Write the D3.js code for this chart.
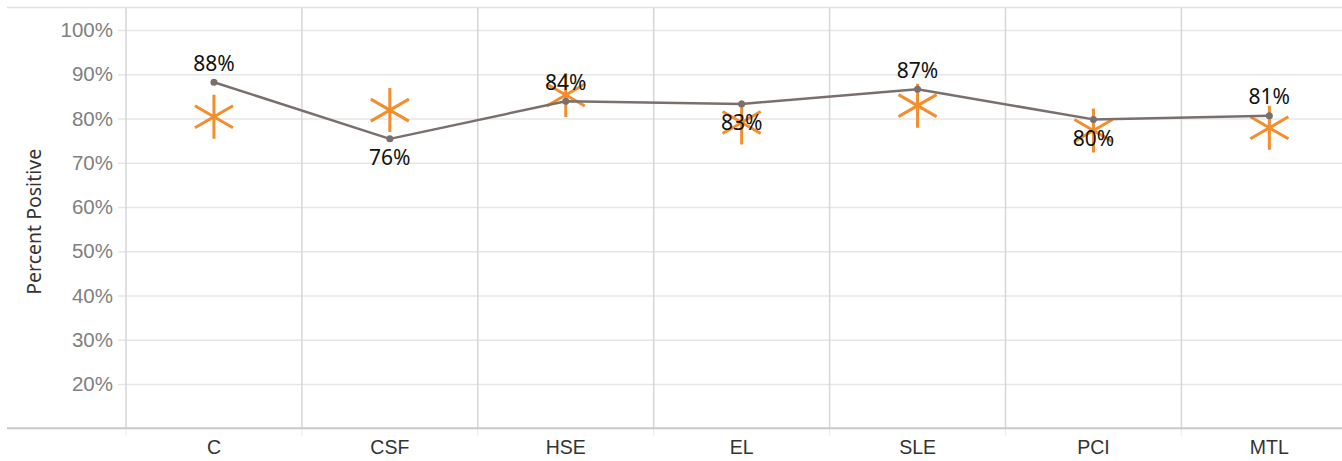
<!DOCTYPE html>
<html>
<head>
<meta charset="utf-8">
<script src="https://cdn.jsdelivr.net/npm/d3@7"></script>
<style>
  html, body { margin: 0; padding: 0; background: #fff; }
  svg { display: block; font-family: "Noto Sans", "Open Sans", sans-serif; }
</style>
</head>
<body>
<svg id="chart" width="1342" height="461"></svg>
<script>
// ---- data ----
const categories = ["C", "CSF", "HSE", "EL", "SLE", "PCI", "MTL"];
const lineValues = [88.2, 75.4, 83.9, 83.3, 86.6, 79.8, 80.6];      // gray line (labelled)
const lineLabels = ["88%", "76%", "84%", "83%", "87%", "80%", "81%"];
const starValues = [80.4, 81.9, 85.3, 79.1, 82.9, 77.3, 77.9];      // orange asterisks
const yTicks = [20, 30, 40, 50, 60, 70, 80, 90, 100];
const yTickLabels = yTicks.map(t => t + "%");
const yTitle = "Percent Positive";

// ---- layout ----
const W = 1342, H = 461;
const plotLeft = 126, bandW = 175.9;
const svg = d3.select("#chart");

const x = d3.scaleBand().domain(categories)
  .range([plotLeft, plotLeft + bandW * categories.length]).padding(0);
const y = d3.scaleLinear().domain([10, 100]).range([428.25, 30]);
const yTop = y(105.1), yBot = y(10);

// horizontal gridlines (y axis ticks)
const yAxis = d3.axisLeft(y).tickValues(yTicks).tickFormat((d, i) => yTickLabels[i])
  .tickSize(-(W - plotLeft)).tickPadding(13);
const ga = svg.append("g").attr("transform", `translate(${plotLeft},0)`).call(yAxis);
ga.select(".domain").remove();
ga.selectAll(".tick line").attr("x1", -8).attr("stroke", "#e6e6e6").attr("stroke-width", 1.5);
ga.selectAll(".tick text").attr("fill", "#808080").attr("font-size", 20.5);

// vertical band separators
const seps = categories.map(c => x(c));
svg.append("g").selectAll("line").data(seps).join("line")
  .attr("x1", d => d).attr("x2", d => d)
  .attr("y1", yTop).attr("y2", yBot)
  .attr("stroke", "#d6d6d6").attr("stroke-width", 1.5);
svg.append("g").selectAll("line").data(seps).join("line")
  .attr("x1", d => d).attr("x2", d => d)
  .attr("y1", yBot).attr("y2", yBot + 8)
  .attr("stroke", "#f0f0f0").attr("stroke-width", 1.5);

// top frame line & bottom axis line
svg.append("line").attr("x1", 7).attr("x2", W).attr("y1", yTop).attr("y2", yTop)
  .attr("stroke", "#e0e0e0").attr("stroke-width", 1.5);
svg.append("line").attr("x1", 7).attr("x2", W).attr("y1", yBot).attr("y2", yBot)
  .attr("stroke", "#c8c8c8").attr("stroke-width", 2);

// x axis labels
const xAxis = d3.axisBottom(x).tickSize(0).tickPadding(12);
const gx = svg.append("g").attr("transform", `translate(0,${yBot})`).call(xAxis);
gx.select(".domain").remove();
gx.selectAll(".tick text").attr("fill", "#333").attr("font-size", 19.5);

// y title
svg.append("text")
  .attr("transform", `translate(41,${(yTop + yBot) / 2 + 4}) rotate(-90)`)
  .attr("text-anchor", "middle").attr("fill", "#333").attr("font-size", 19.5)
  .text(yTitle);

const cx = c => x(c) + x.bandwidth() / 2;

// asterisks
const star = d3.symbol(d3.symbolAsterisk).size(1369);
svg.append("g").selectAll("path").data(categories).join("path")
  .attr("transform", (c, i) => `translate(${cx(c)},${y(starValues[i])})`)
  .attr("d", star())
  .attr("fill", "none").attr("stroke", "#F28E2B").attr("stroke-width", 3);

// line
const line = d3.line().x((d, i) => cx(categories[i])).y(d => y(d));
svg.append("path").datum(lineValues).attr("d", line)
  .attr("fill", "none").attr("stroke", "#79706E").attr("stroke-width", 2.5)
  .attr("stroke-linejoin", "round");
svg.append("g").selectAll("circle").data(lineValues).join("circle")
  .attr("cx", (d, i) => cx(categories[i])).attr("cy", d => y(d)).attr("r", 3.5)
  .attr("fill", "#79706E");

// labels (alternate above / below)
svg.append("g").selectAll("text").data(lineValues).join("text")
  .attr("x", (d, i) => cx(categories[i]))
  .attr("y", (d, i) => y(d) + (i % 2 === 0 ? -11.5 : 26.5))
  .attr("text-anchor", "middle").attr("fill", "#111").attr("font-size", 21)
  .text((d, i) => lineLabels[i]);
</script>
</body>
</html>
